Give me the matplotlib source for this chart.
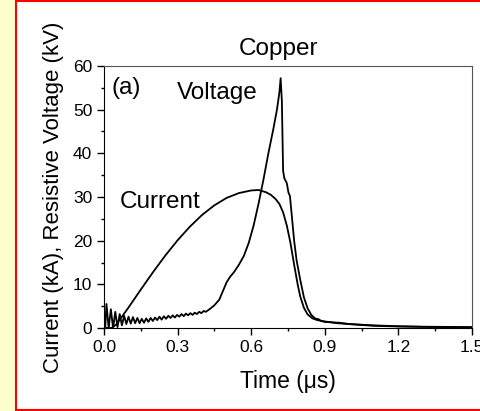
import matplotlib
matplotlib.use("Agg")
import matplotlib.pyplot as plt
from matplotlib.patches import Rectangle
from matplotlib.ticker import MultipleLocator, FormatStrFormatter

plt.rcParams['font.family'] = ['Liberation Sans', 'DejaVu Sans']

# Current (kA)
t_current = [0.0, 0.03, 0.05, 0.10, 0.15, 0.20, 0.25, 0.30, 0.35, 0.40,
             0.45, 0.50, 0.55, 0.60, 0.63, 0.66, 0.68,
             0.70, 0.715, 0.73, 0.745, 0.76, 0.775, 0.79, 0.80, 0.815, 0.83, 0.85,
             0.87, 0.90, 0.95, 1.00, 1.10, 1.20, 1.30, 1.50]
current = [0.0, 0.0, 0.8, 4.7, 8.8, 12.8, 16.6, 20.1, 23.2, 25.9,
           28.1, 29.8, 30.9, 31.5, 31.6, 31.1, 30.5,
           29.5, 28.4, 26.5, 23.5, 19.5, 14.5, 9.8, 7.2, 4.6, 3.1, 2.2,
           1.8, 1.5, 1.1, 0.9, 0.6, 0.4, 0.3, 0.2]

# Resistive voltage (kV)
t_voltage = [0.0, 0.005,
             0.010, 0.019, 0.028, 0.037, 0.046, 0.055, 0.064, 0.073, 0.082, 0.091,
             0.100, 0.109, 0.118, 0.127, 0.136, 0.145, 0.154, 0.163, 0.172, 0.181,
             0.190, 0.199, 0.208, 0.217, 0.226, 0.235, 0.244, 0.253, 0.262, 0.271,
             0.280, 0.289, 0.298, 0.307, 0.316, 0.325, 0.334, 0.343, 0.352, 0.361,
             0.370, 0.379, 0.388, 0.397, 0.406, 0.415,
             0.43, 0.45, 0.47, 0.485, 0.50, 0.515, 0.53, 0.55, 0.57, 0.59, 0.61,
             0.63, 0.65, 0.67, 0.69, 0.705, 0.715, 0.72, 0.725, 0.73, 0.735, 0.745,
             0.752, 0.758, 0.765, 0.775, 0.785, 0.80, 0.815, 0.83, 0.845, 0.86,
             0.875, 0.885, 0.90, 0.93, 0.96, 1.00, 1.05, 1.10, 1.20, 1.30, 1.40, 1.50]
voltage = [0.0, 0.0,
           5.5, 0.0, 4.3, 0.0, 3.7, 0.2, 3.2, 0.6, 2.8, 0.9,
           2.6, 1.0, 2.5, 1.1, 2.3, 1.1, 2.1, 1.2, 2.2, 1.4,
           2.3, 1.6, 2.4, 1.8, 2.6, 1.9, 2.7, 2.1, 2.8, 2.3,
           2.9, 2.4, 3.0, 2.6, 3.2, 2.7, 3.3, 2.9, 3.4, 3.0,
           3.5, 3.2, 3.7, 3.4, 3.9, 3.7,
           4.3, 5.2, 6.5, 8.5, 10.5, 11.8, 12.8, 14.5, 16.5, 19.5, 23.5,
           28.5, 34.0, 40.0, 45.5, 50.0, 54.0, 57.2, 52.0, 36.0, 34.3, 33.2,
           31.0, 30.2, 26.0, 20.0, 15.5, 11.0, 7.0, 4.5, 3.0, 2.2,
           2.0, 1.6, 1.4, 1.3, 1.2, 0.9, 0.7, 0.5, 0.35, 0.25, 0.2, 0.15]

W, H = 481, 411
fig = plt.figure(figsize=(W / 100, H / 100), dpi=100)
fig.patch.set_facecolor('#FFFFCC')
frame = Rectangle((16 / W, 1 - 410 / H), 1.0, (409 / H), transform=fig.transFigure,
                  facecolor='white', edgecolor='#FF0000', linewidth=1.5, zorder=-10)
fig.add_artist(frame)

ax = fig.add_axes([104 / W, 1 - 328 / H, (472 - 104) / W, (328 - 66) / H])
ax.set_zorder(1)
ax.set_facecolor('white')
ax.plot(t_current, current, color='black', lw=1.3)
ax.plot(t_voltage, voltage, color='black', lw=1.3)

ax.set_xlim(0, 1.5)
ax.set_ylim(0, 60)
ax.xaxis.set_major_locator(MultipleLocator(0.3))
ax.xaxis.set_minor_locator(MultipleLocator(0.15))
ax.yaxis.set_major_locator(MultipleLocator(10))
ax.yaxis.set_minor_locator(MultipleLocator(5))
ax.xaxis.set_major_formatter(FormatStrFormatter('%.1f'))
ax.yaxis.set_major_formatter(FormatStrFormatter('%d'))
ax.tick_params(which='major', direction='out', length=5, width=1, labelsize=12.5, pad=3.5)
ax.tick_params(which='minor', direction='out', length=2.5, width=1)
for s in ['top', 'right']:
    ax.spines[s].set_color('#555555')
for s in ['left', 'bottom']:
    ax.spines[s].set_color('black')

ax.set_xlabel('Time (μs)', fontsize=16.5, labelpad=11)
ax.set_ylabel('Current (kA), Resistive Voltage (kV)', fontsize=16, labelpad=6)

ax.text(0.031, 53.7, '(a)', fontsize=17.5, va='baseline')
ax.text(0.296, 52.4, 'Voltage', fontsize=17.5, va='baseline')
ax.text(0.065, 27.4, 'Current', fontsize=17.5, va='baseline')
fig.text(278 / W, 1 - 55 / H, 'Copper', fontsize=17.5, ha='center', va='baseline')

fig.savefig('out.png', dpi=100, facecolor=fig.get_facecolor())
